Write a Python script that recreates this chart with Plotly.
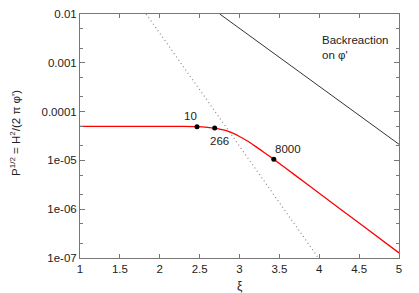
import math
import plotly.graph_objects as go

# --- data -----------------------------------------------------------------
xi_red = [1.0, 1.5, 2.0, 2.3, 2.467, 2.6, 2.689, 2.75, 2.8, 2.9, 3.0, 3.1, 3.2, 3.3, 3.43, 3.7, 4.0, 4.5, 5.0]
p_red = [5.0e-5, 5.0e-5, 5.0e-5, 4.98e-5, 4.92e-5, 4.77e-5, 4.6e-5, 4.39e-5, 4.2e-5, 3.7e-5,
         3.09e-5, 2.49e-5, 1.94e-5, 1.49e-5, 1.05e-5, 4.93e-6, 2.12e-6, 5.19e-7, 1.27e-7]

xi_dot = [1.83, 3.99]
p_dot = [1.0e-2, 1.0e-7]

xi_back = [2.752, 5.0]
p_back = [1.0e-2, 2.14e-5]

pt_xi = [2.467, 2.689, 3.43]
pt_p = [4.92e-5, 4.6e-5, 1.05e-5]
pt_labels = ["10", "266", "8000"]

x_ticks = [1, 1.5, 2, 2.5, 3, 3.5, 4, 4.5, 5]
x_ticktext = ["1", "1.5", "2", "2.5", "3", "3.5", "4", "4.5", "5"]
y_ticks = [1e-7, 1e-6, 1e-5, 1e-4, 1e-3, 1e-2]
y_ticktext = ["1e-07", "1e-06", "1e-05", "0.0001", "0.001", "0.01"]

# --- figure ---------------------------------------------------------------
FONT = "Liberation Sans, Arial, sans-serif"
TXT = "#222222"
fig = go.Figure()
fig.add_trace(go.Scatter(x=xi_dot, y=p_dot, mode="lines",
                         line=dict(color="#888888", width=1.2, dash="1px,3px"),
                         hoverinfo="skip"))
fig.add_trace(go.Scatter(x=xi_back, y=p_back, mode="lines",
                         line=dict(color="#333333", width=1), hoverinfo="skip"))
fig.add_trace(go.Scatter(x=xi_red, y=p_red, mode="lines",
                         line=dict(color="#ff0000", width=1.3, shape="spline", smoothing=0.6),
                         hoverinfo="skip"))
fig.add_trace(go.Scatter(x=pt_xi, y=pt_p, mode="markers",
                         marker=dict(color="black", size=5), hoverinfo="skip"))

shifts = [(-6, 11), (5, -13), (14, 10)]
for xv, yv, lab, (dx, dy) in zip(pt_xi, pt_p, pt_labels, shifts):
    fig.add_annotation(x=xv, y=math.log10(yv), xref="x", yref="y", text=lab,
                       showarrow=False, xshift=dx, yshift=dy,
                       font=dict(family=FONT, size=11.5, color=TXT))

fig.add_annotation(x=0.751, y=0.862, xref="paper", yref="paper",
                   text="Backreaction<br>on φ'", showarrow=False,
                   xanchor="left", yanchor="middle", align="left",
                   font=dict(family=FONT, size=11.5, color=TXT))

# axis titles as annotations (exact placement)
fig.add_annotation(x=0.5, y=-0.116, xref="paper", yref="paper", text="ξ",
                   showarrow=False, xanchor="center", yanchor="middle",
                   font=dict(family=FONT, size=12, color=TXT))
fig.add_annotation(x=-0.204, y=0.512, xref="paper", yref="paper",
                   text="P<sup>1/2</sup> = H<sup>2</sup>/(2 π φ')", textangle=-90,
                   showarrow=False, xanchor="center", yanchor="middle",
                   font=dict(family=FONT, size=11.5, color=TXT))

axis_common = dict(showline=True, linecolor="#777777", linewidth=1, mirror="allticks",
                   ticks="inside", tickcolor="#777777", showgrid=False, zeroline=False,
                   automargin=False,
                   tickfont=dict(family=FONT, size=11.5, color=TXT))

fig.update_xaxes(range=[1, 5], tickvals=x_ticks, ticktext=x_ticktext, ticklen=4,
                 **axis_common)
fig.update_yaxes(type="log", range=[-7, -2], tickvals=y_ticks, ticktext=y_ticktext, ticklen=5,
                 minor=dict(ticks="inside", ticklen=3, tickcolor="#777777", dtick="D2"),
                 **axis_common)

# the page body has an 8px default margin, so the figure is sized/offset to compensate
fig.update_layout(width=411, height=285, showlegend=False,
                  margin=dict(l=72, r=20, t=6, b=35),
                  plot_bgcolor="white", paper_bgcolor="white")

fig.write_html("out.html")
